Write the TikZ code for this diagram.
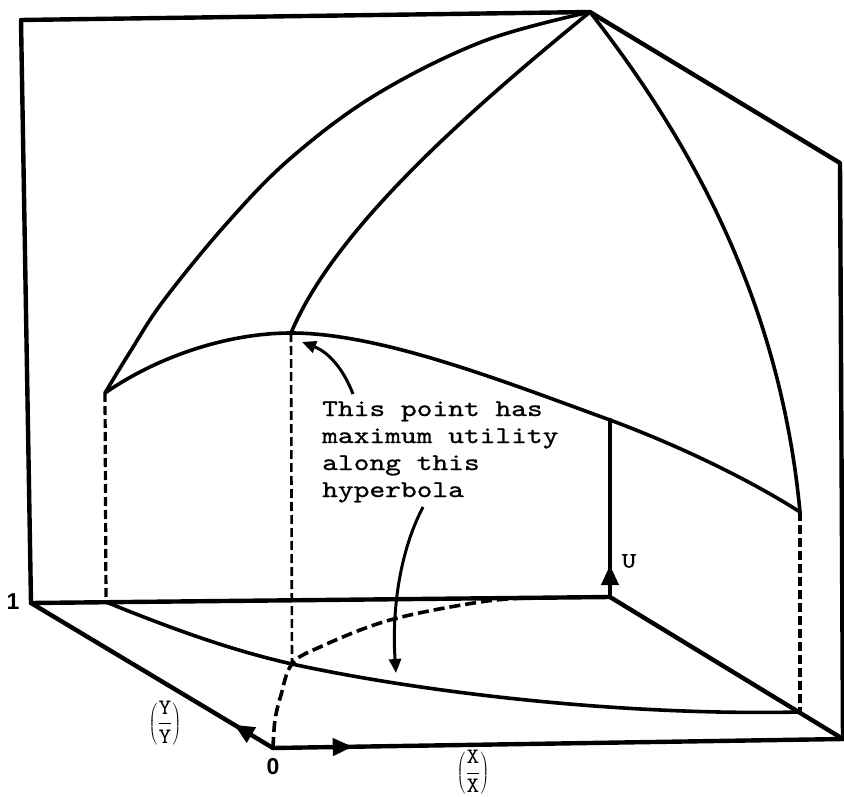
\documentclass[tikz,border=0pt]{standalone}
\usepackage{fontspec}
\usetikzlibrary{arrows.meta,decorations.markings}
\newfontfamily\labfont{Liberation Sans}
\newfontfamily\notefont{lmmono10-regular.otf}[FakeBold=0.9, FakeStretch=1.25]
\newfontfamily\fracfont{lmmono10-regular.otf}[FakeStretch=1.1]
\begin{document}
\begin{tikzpicture}[x=1pt,y=-1pt,
  edge/.style={line width=4.4pt, line join=round, line cap=round},
  curve/.style={line width=3.6pt, line cap=round, line join=round},
  vdash/.style={line width=3.2pt, dash pattern=on 9pt off 4pt},
  fdash/.style={line width=3.6pt, dash pattern=on 11pt off 5pt},
  note/.style={line width=3pt, -{Triangle[length=14pt,width=12pt]}},
  axisarrow/.style={postaction={decorate}, decoration={markings,
     mark=at position #1 with {\arrow{Triangle[length=20pt,width=17pt]}}}},
  txt/.style={anchor=base west, inner sep=0pt, font=\notefont\fontsize{24}{27}\selectfont},
  lab/.style={inner sep=0pt, font=\labfont\bfseries\fontsize{23}{23}\selectfont},
  frac/.style={inner sep=0pt, font=\fontsize{22}{25}\selectfont}
]
\useasboundingbox (0,0) rectangle (844,797);
% box corners
\coordinate (TL) at (21,20);
\coordinate (A) at (590,12);
\coordinate (R) at (840,163);
\coordinate (B1) at (31,603);
\coordinate (BR) at (610,597);
\coordinate (O) at (273,748);
\coordinate (FR) at (843,739);
\coordinate (Utop) at (610,420);
% surface points
\coordinate (P1) at (105,393);
\coordinate (Pk) at (291,333);
\coordinate (P2) at (800,512);
\coordinate (H1) at (106,602);
\coordinate (Hm) at (292,664);
\coordinate (H2) at (800,712);

% back frame
\draw[edge] (B1) -- (TL) -- (A) -- (R) -- (FR);
% floor
\draw[edge] (B1) -- (BR) -- (FR);
\draw[edge, axisarrow=0.16] (O) -- (B1);
\draw[edge, axisarrow=0.14] (O) -- (FR);
\draw[edge, axisarrow=0.18] (BR) -- (Utop);

% meridians
\draw[curve] plot[smooth, tension=0.6] coordinates {(A) (484,41) (377,94) (292,157) (228,222) (164,300) (130,352) (P1)};
\draw[curve] (A) .. controls (470,110) and (335,228) .. (Pk);
\draw[curve] (A) .. controls (690,140) and (780,300) .. (P2);
% upper contour
\draw[curve] (P1) .. controls (160,355) and (230,333) .. (Pk)
   .. controls (380,333) and (500,380) .. (Utop)
   .. controls (680,446) and (750,480) .. (P2);
% floor hyperbola
\draw[curve] (H1) .. controls (170,628) and (230,650) .. (Hm)
   .. controls (420,692) and (620,716) .. (H2);
% dashed floor curve
\draw[fdash] plot[smooth, tension=0.6] coordinates {(O) (275,720) (281,695) (Hm) (320,647) (390,620) (480,602) (530,598)};
% dashed verticals
\draw[vdash] (P1) -- (H1);
\draw[vdash, line width=2.6pt] (Pk) -- (Hm);
\draw[vdash] (P2) -- (H2);

% text
\node[txt] (t1) at (322,416) {This point has};
\node[txt] (t2) at (322,443) {maximum utility};
\node[txt] (t3) at (322,470) {along this};
\node[txt] (t4) at (322,497) {hyperbola};
\coordinate (a1s) at (353,394);
\coordinate (a1e) at (302,342);
\coordinate (a2s) at (423,507);
\coordinate (a2e) at (396,673);
\draw[note] (a1s) .. controls (343,368) and (328,352) .. (a1e);
\draw[note] (a2s) .. controls (398,555) and (392,615) .. (a2e);

% labels
\node[lab] (one) at (13,602) {1};
\node[lab] (zero) at (273,767) {0};
\node[txt, anchor=center, font=\notefont\fontsize{22}{22}\selectfont] (ulab) at (629,561) {U};
\node[frac] (ylab) at (165,723) {$\displaystyle\left(\frac{\hbox{\fracfont Y}}{\hbox{\fracfont Y}}\right)$};
\node[frac, anchor=south] (xlab) at (473,794) {$\displaystyle\left(\frac{\hbox{\fracfont X}}{\hbox{\fracfont X}}\right)$};
\end{tikzpicture}
\end{document}
